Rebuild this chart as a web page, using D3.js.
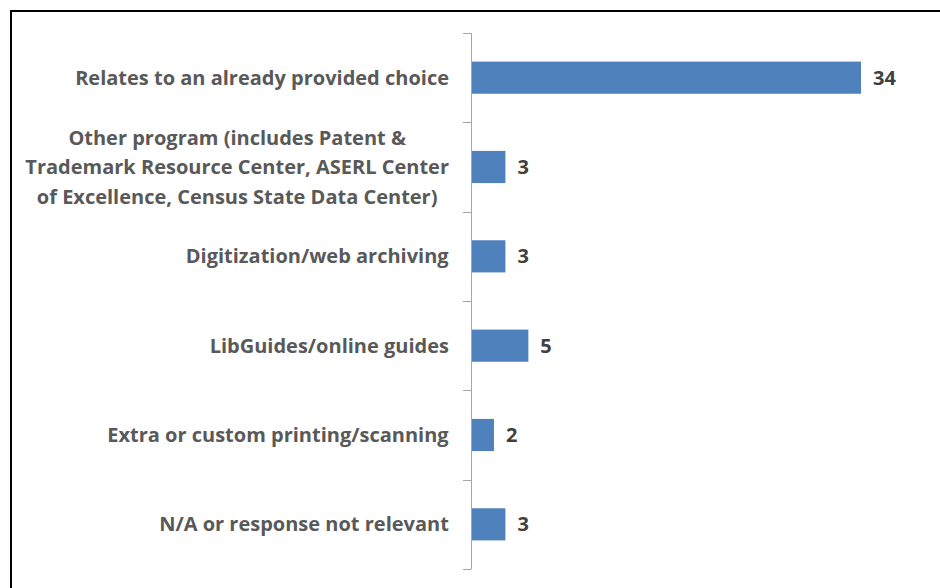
<!DOCTYPE html>
<html>
<head>
<meta charset="utf-8">
<script src="https://cdn.jsdelivr.net/npm/d3@7"></script>
<style>
  body { margin: 0; background: #fff; }
  svg { display: block; }
</style>
</head>
<body>
<script>
// data
var categories = [
  ["Relates to an already provided choice"],
  ["Other program (includes Patent &", "Trademark Resource Center, ASERL Center", "of Excellence, Census State Data Center)"],
  ["Digitization/web archiving"],
  ["LibGuides/online guides"],
  ["Extra or custom printing/scanning"],
  ["N/A or response not relevant"]
];
var counts = [34, 3, 3, 5, 2, 3];

var width = 940,
  height = 588;

var svg = d3
  .select("body")
  .append("svg")
  .attr("width", width)
  .attr("height", height);

// frame (only top and left edges are visible in the picture)
svg.append("path")
  .attr("d", "M11,588 V11 H940")
  .attr("fill", "none")
  .attr("stroke", "#000")
  .attr("stroke-width", 2);

var ids = d3.range(categories.length);

var y = d3.scaleBand()
  .domain(ids)
  .range([33, 569])
  .paddingInner(0.64)
  .paddingOuter(0.32);

var x = d3.scaleLinear()
  .domain([0, 34])
  .range([471, 861]);

// bars
svg.selectAll("rect.bar")
  .data(counts)
  .enter()
  .append("rect")
  .attr("class", "bar")
  .attr("x", x(0))
  .attr("y", function(d, i) { return y(i); })
  .attr("width", function(d) { return x(d) - x(0); })
  .attr("height", y.bandwidth())
  .attr("fill", "#4f81bd");

// axis line with ticks between categories
var step = (569 - 33) / categories.length;
var tickY = d3.range(categories.length + 1).map(function(i) { return 33 + i * step; });

svg.append("line")
  .attr("x1", x(0) + 0.5).attr("x2", x(0) + 0.5)
  .attr("y1", 33).attr("y2", 569)
  .attr("stroke", "#a6a6a6")
  .attr("stroke-width", 1);

svg.selectAll("line.tick")
  .data(tickY)
  .enter()
  .append("line")
  .attr("class", "tick")
  .attr("x1", x(0) - 8).attr("x2", x(0) + 0.5)
  .attr("y1", function(d) { return Math.round(d) + 0.5; })
  .attr("y2", function(d) { return Math.round(d) + 0.5; })
  .attr("stroke", "#a6a6a6")
  .attr("stroke-width", 1);

// category labels
var lineH = 29.5;
var labels = svg.selectAll("text.cat")
  .data(categories)
  .enter()
  .append("text")
  .attr("class", "cat")
  .attr("text-anchor", "middle")
  .attr("font-family", "'Open Sans', sans-serif")
  .attr("font-weight", "bold")
  .attr("font-size", 20)
  .attr("fill", "#595959")
  .attr("transform", function(d, i) {
    return "translate(0," + (y(i) + y.bandwidth() / 2) + ")";
  });

labels.each(function(lines) {
  var t = d3.select(this);
  var n = lines.length;
  lines.forEach(function(s, k) {
    t.append("tspan")
      .attr("x", 0)
      .attr("y", (k - (n - 1) / 2) * lineH)
      .attr("dy", "0.35em")
      .text(s);
  });
});

// right-align each label block at the axis, lines centred within the block
labels.each(function() {
  var b = this.getBBox();
  var t = d3.select(this);
  var cx = 449 - b.width / 2;
  t.selectAll("tspan").attr("x", cx);
});

// value labels
svg.selectAll("text.val")
  .data(counts)
  .enter()
  .append("text")
  .attr("class", "val")
  .attr("x", function(d) { return x(d) + 12; })
  .attr("y", function(d, i) { return y(i) + y.bandwidth() / 2; })
  .attr("dy", "0.35em")
  .attr("font-family", "'Open Sans', sans-serif")
  .attr("font-weight", "bold")
  .attr("font-size", 20)
  .attr("fill", "#404040")
  .text(function(d) { return d; });
</script>
</body>
</html>
